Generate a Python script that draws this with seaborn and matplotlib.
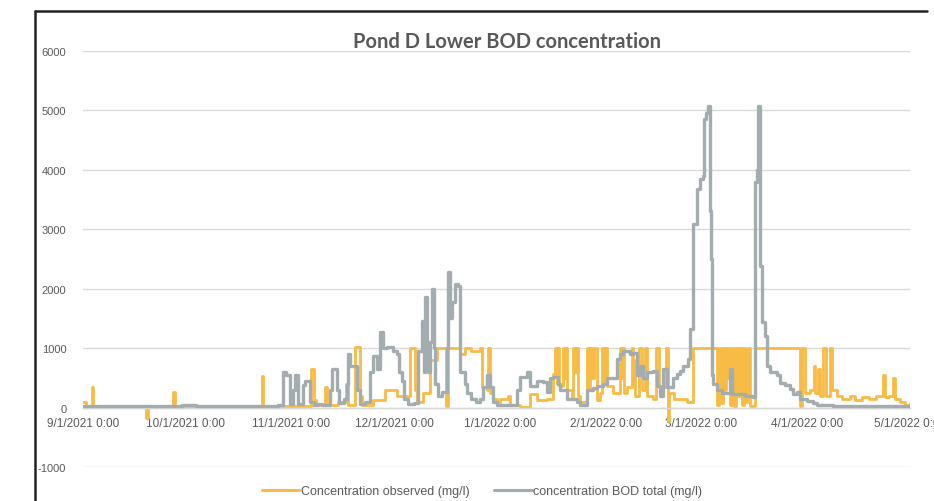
import matplotlib
matplotlib.use("Agg")
import matplotlib.pyplot as plt
from matplotlib.lines import Line2D
import seaborn as sns
import pandas as pd

# ---------------- data (days since 2021-09-01, value in mg/l) ----------------
start_date = "2021-09-01"

bod_total_days = [0, 10, 25, 29, 33, 50, 57, 58.5, 59.5, 60.6, 61.5, 62.0, 63.0, 64.5, 65.0, 66.4,
                  67.5, 68.5, 70, 72.3, 72.9, 74.3, 75.0, 76.5, 77.3, 77.6, 78.1, 80.2, 81.1, 82.5,
                  84.0, 84.9, 86.0, 86.9, 87.8, 89.0, 90.7, 91.9, 92.5, 93.3, 94.0, 95.0, 97.0,
                  98.0, 99.2, 99.8, 100.1, 100.7, 101.0, 101.6, 102.1, 102.7, 103.0, 104.0, 105.1,
                  106.5, 106.8, 107.4, 108.0, 108.9, 109.7, 110.3, 111.8, 112.4, 113.5, 115.0,
                  116.2, 117.1, 118.2, 119.1, 120.0, 121.2, 123.5, 125.8, 127.0, 128.0, 129.9,
                  130.8, 132.3, 132.9, 134.6, 135.8, 136.7, 137.5, 139.0, 139.6, 141.6, 144.6,
                  145.4, 147.5, 149.3, 150.4, 152.2, 153.4, 155.1, 156.3, 157.2, 158.0, 160.1,
                  161.0, 162.1, 163.0, 163.9, 165.1, 166.8, 168.0, 168.9, 169.7, 170.9, 172.7,
                  173.8, 174.7, 175.6, 177.1, 177.6, 178.5, 179.7, 180.6, 181.4, 181.7, 182.3,
                  182.9, 183.5, 183.8, 184.1, 184.4, 185.5, 187.0, 189.3, 189.9, 191.0, 193.7,
                  196.1, 196.7, 197.2, 197.5, 198.1, 198.7, 199.6, 200.2, 201.1, 203.1, 204.0,
                  205.4, 206.9, 207.8, 209.0, 209.8, 211.9, 213.6, 214.8, 217.7, 219.5, 242.0]
bod_total_vals = [20, 25, 30, 45, 25, 25, 40, 600, 550, 60, 300, 540, 60, 380, 450, 100,
                  40, 60, 40, 300, 650, 300, 80, 150, 400, 900, 700, 300, 60, 100,
                  600, 870, 650, 1270, 1000, 1020, 950, 900, 600, 450, 150, 60, 80,
                  960, 1450, 600, 1860, 900, 600, 1100, 2000, 1000, 400, 200, 270,
                  1000, 2280, 1500, 1780, 2080, 2050, 600, 400, 250, 150, 100,
                  150, 350, 540, 350, 100, 50, 40, 50, 300, 520, 600,
                  370, 370, 450, 430, 270, 500, 520, 400, 300, 150, 100,
                  40, 300, 330, 370, 400, 490, 500, 820, 900, 950, 900,
                  920, 550, 700, 490, 600, 620, 370, 200, 650, 350, 500,
                  560, 620, 700, 820, 1330, 3090, 3680, 3850, 3900, 4860, 4950,
                  5080, 3300, 2500, 540, 400, 300, 250, 650, 230, 220, 200,
                  180, 3800, 4000, 5080, 2380, 1440, 1200, 700, 600, 550, 420,
                  380, 320, 220, 260, 150, 110, 80, 50, 35, 25, 25]

observed_days = [0, 1.0, 2.5, 3.0, 18.0, 18.3, 18.9, 26.0, 26.3, 26.8, 52.0, 52.3, 52.8, 58.0,
                 66.8, 67.6, 68.3, 70.8, 71.5, 74.5, 77.0, 77.6, 79.6, 81.1, 81.7, 85.0, 87.8,
                 88.4, 91.9, 93.0, 95.7, 97.2, 97.7, 99.5, 101.6, 103.6, 106.3, 106.8, 110.3,
                 111.8, 113.5, 116.2, 116.8, 118.2, 118.5, 119.0, 120.0, 121.2, 122.0, 124.5,
                 125.0, 127.9, 130.8, 132.9, 135.8,
                 137.5, 138.0, 138.6, 138.9, 139.3, 140.5, 140.9, 141.2, 141.6, 143.1,
                 143.4, 144.0, 144.3, 144.9, 145.4, 147.5, 148.0, 148.3, 149.0, 149.4,
                 150.4, 151.3, 151.9, 152.4, 152.7, 153.4, 155.1, 157.2, 157.6, 157.9,
                 158.4, 159.2, 160.6, 161.0, 161.2, 161.5, 162.7, 163.5, 164.5, 165.0,
                 166.8, 167.7, 168.5, 170.5, 171.2, 171.6, 173.0, 176.8,
                 178.5, 185.5, 185.6, 186.0, 186.6, 187.2, 187.8, 188.1, 188.5,
                 189.0, 189.4, 189.8, 190.5, 191.0, 191.6, 192.2, 192.8, 193.4, 194.0, 194.7,
                 195.3, 196.5, 209.8, 210.5, 211.3, 212.8, 213.8, 214.3, 215.0, 215.6, 216.6,
                 217.3, 218.6, 219.3, 220.5, 222.0, 224.5, 226.0, 228.0, 230.0, 232.0, 234.1,
                 234.6, 236.0, 237.1, 237.6, 239.0, 240.5, 242.0]
observed_vals = [90, 20, 340, 20, 15, -180, 15, 20, 270, 20, 20, 530, 20, 30,
                 650, 120, 40, 350, 40, 100, 400, 50, 1020, 200, 50, 120, 120,
                 300, 200, 200, 1000, 300, 100, 250, 800, 1000, 20, 1000, 900,
                 1000, 950, 1000, 350, 300, 1000, 250, 150, 40, 150, 200,
                 40, 15, 230, 120, 150,
                 570, 1000, 400, 1000, 370, 1000, 500, 1000, 300, 150,
                 1000, 600, 1000, 200, 100, 1000, 300, 1000, 500, 1000,
                 130, 250, 1000, 400, 1000, 370, 250, 1000, 500, 1000,
                 250, 350, 1000, 400, 800, 200, 1000, 300, 1000, 200,
                 150, 1000, 350, 1000, -230, 250, 150, 100,
                 1000, 1000, 50, 1000, 80, 1000, 300, 1000, 500,
                 1000, 50, 1000, 30, 1000, 200, 1000, 50, 1000, 100, 1000,
                 20, 1000, 20, 1000, 250, 300, 700, 250, 650, 200, 1000,
                 200, 1000, 300, 200, 150, 200, 120, 180, 140, 200, 540,
                 180, 200, 490, 150, 100, 50, 80]

series_names = ["Concentration observed (mg/l)", "concentration BOD total (mg/l)"]
series_colors = ["#F8BB45", "#A3ADB0"]
title_text = "Pond D Lower BOD concentration"
y_ticks = [-1000, 0, 1000, 2000, 3000, 4000, 5000, 6000]
x_tick_dates = ["2021-09-01", "2021-10-01", "2021-11-01", "2021-12-01", "2022-01-01",
                "2022-02-01", "2022-03-01", "2022-04-01", "2022-05-01"]

# ---------------- build frames ----------------
t0 = pd.Timestamp(start_date)
df_obs = pd.DataFrame({"time": t0 + pd.to_timedelta(observed_days, unit="D"),
                       "value": observed_vals})
df_tot = pd.DataFrame({"time": t0 + pd.to_timedelta(bod_total_days, unit="D"),
                       "value": bod_total_vals})

# ---------------- figure ----------------
sns.set_theme(style="white")
plt.rcParams["font.family"] = ["Liberation Sans", "DejaVu Sans"]

fig = plt.figure(figsize=(9.34, 5.02), dpi=100)
ax = fig.add_axes([83 / 934, 1 - 468 / 502, (910 - 83) / 934, (468 - 52) / 502])

for y in y_ticks:
    ax.axhline(y, color="#D9D9D9", lw=1.0, zorder=0)

sns.lineplot(data=df_obs, x="time", y="value", ax=ax, color=series_colors[0],
             lw=2.0, drawstyle="steps-post", estimator=None, sort=False, zorder=2)
sns.lineplot(data=df_tot, x="time", y="value", ax=ax, color=series_colors[1],
             lw=2.4, drawstyle="steps-post", estimator=None, sort=False, zorder=3)

ax.set_ylim(-1000, 6000)
ax.set_xlim(pd.Timestamp(x_tick_dates[0]), pd.Timestamp(x_tick_dates[-1]))
ax.set_yticks(y_ticks)
ax.set_yticklabels([str(v) for v in y_ticks])
xt = [pd.Timestamp(d) for d in x_tick_dates]
ax.set_xticks(xt)
ax.set_xticklabels([f"{d.month}/{d.day}/{d.year} 0:00" for d in xt])
ax.set_xlabel("")
ax.set_ylabel("")

for s in ["top", "right", "left"]:
    ax.spines[s].set_visible(False)
ax.spines["bottom"].set_position(("data", 0))
ax.spines["bottom"].set_color("#D9D9D9")
ax.spines["bottom"].set_linewidth(1.0)
ax.tick_params(axis="x", length=0, pad=7, labelsize=8.5, labelcolor="#595959")
ax.tick_params(axis="y", length=0, pad=12, labelsize=8, labelcolor="#595959")

fig.text(507 / 934, 1 - 42 / 502, title_text, ha="center", va="center",
         fontsize=14.5, fontweight="bold", color="#595959", family=["Lato", "DejaVu Sans"])

handles = [Line2D([], [], color=series_colors[0], lw=2.2),
           Line2D([], [], color=series_colors[1], lw=2.2)]
fig.legend(handles, series_names, loc="center", bbox_to_anchor=(482 / 934, 1 - 492 / 502),
           ncol=2, frameon=False, fontsize=9, handlelength=3.0, handletextpad=0.1,
           columnspacing=2.0, labelcolor="#595959")

# outer dark frame of the chart box
fig.add_artist(Line2D([35 / 934, 35 / 934], [0, 1 - 12 / 502], transform=fig.transFigure,
                      color="#222222", lw=1.8))
fig.add_artist(Line2D([35 / 934, 927 / 934], [1 - 12 / 502, 1 - 12 / 502],
                      transform=fig.transFigure, color="#222222", lw=1.8))

fig.savefig("out.png", dpi=100)
